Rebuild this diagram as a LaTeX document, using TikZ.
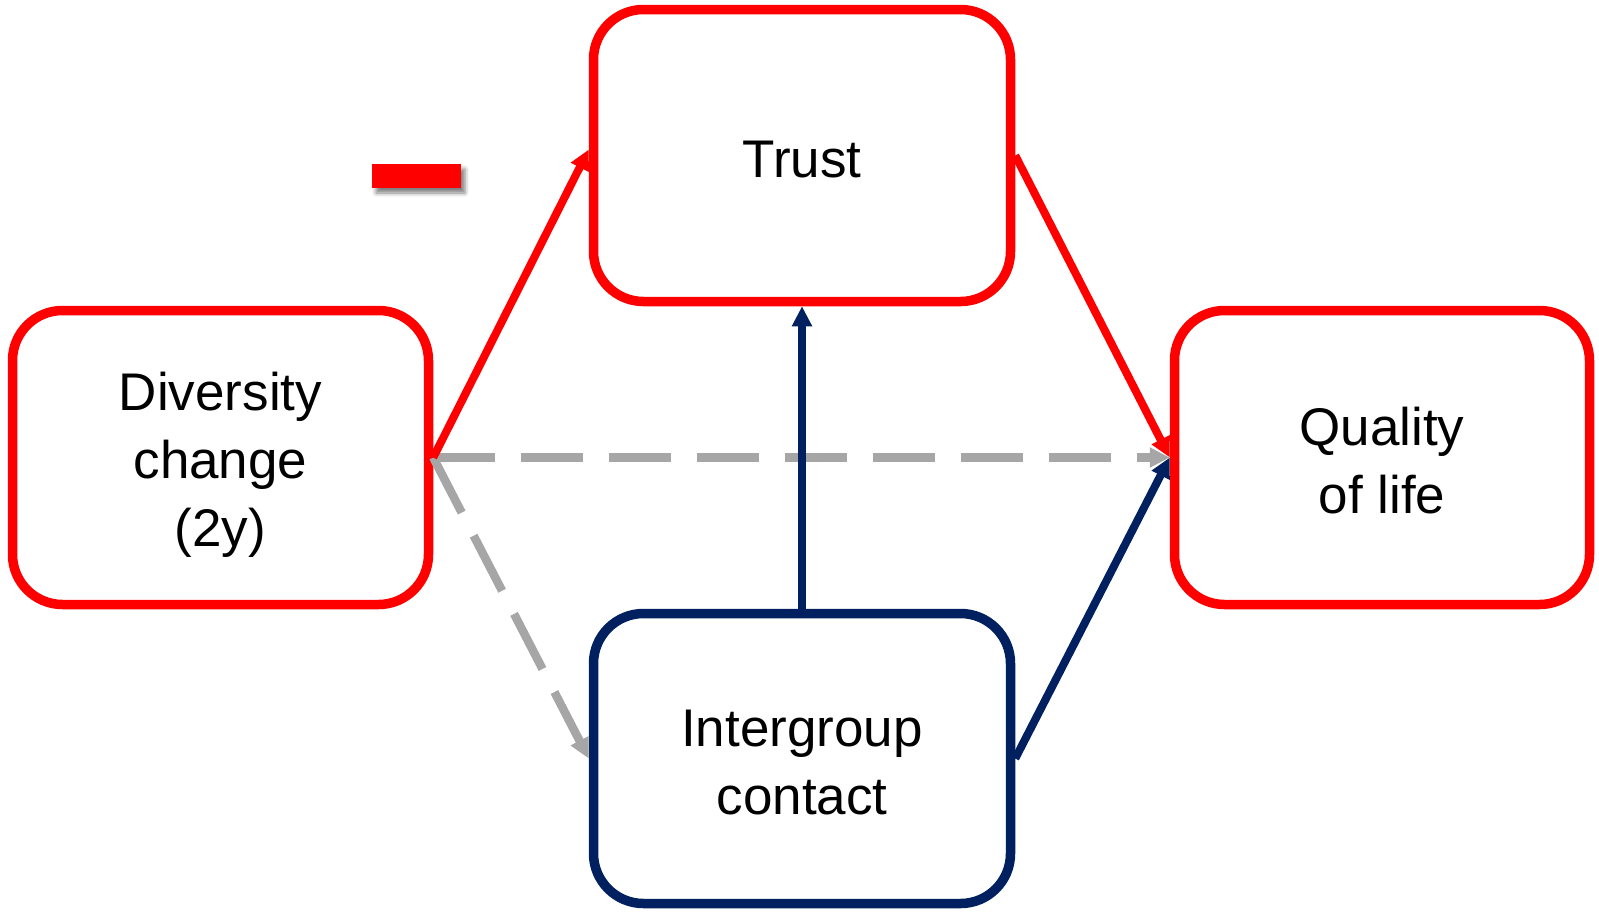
\documentclass[tikz,border=0pt]{standalone}
\usepackage{fontspec}
\setmainfont{Liberation Sans}
\usetikzlibrary{arrows.meta,shadows.blur}
\definecolor{boxred}{RGB}{255,0,0}
\definecolor{navy}{RGB}{0,32,96}
\definecolor{dashgrey}{RGB}{166,166,166}
\tikzset{
  varbox/.style={draw, line width=9.5pt, rounded corners=50pt, fill=white,
    align=center, inner sep=0pt,
    font=\fontsize{53}{68}\selectfont},
  redbox/.style={varbox, draw=boxred},
  navybox/.style={varbox, draw=navy},
  tip/.style={-{Triangle[length=20pt,width=19pt,fill=#1]}},
  redpath/.style={line width=8pt, draw=boxred, tip=boxred},
  navypath/.style={line width=8pt, draw=navy, tip=navy},
  nspath/.style={line width=8.5pt, draw=dashgrey, dash pattern=on 62pt off 26pt,
    tip=dashgrey}
}
\begin{document}
\begin{tikzpicture}[x=1pt,y=-1pt]
\useasboundingbox (0,0) rectangle (1599,914);
% variables
\node[redbox, minimum width=417pt, minimum height=292pt] (trust) at (802,155.5) {\rule{0pt}{44pt}Trust};
\node[redbox, minimum width=416pt, minimum height=294pt] (div) at (220.5,457.5) {\rule{0pt}{53pt}Diversity\\change\\(2y)};
\node[redbox, minimum width=415pt, minimum height=294pt] (qol) at (1382,457.5) {\rule{0pt}{45pt}Quality\\of life};
\node[navybox, minimum width=417pt, minimum height=290pt] (igc) at (802,758.5) {\rule{0pt}{44pt}Intergroup\\contact};
% non-significant paths
\draw[nspath] (div.east) -- (qol.west);
\draw[nspath] (div.east) -- (igc.west);
% significant paths
\draw[redpath] (div.east) -- ([yshift=6pt]trust.west);
\draw[redpath] (trust.east) -- (qol.west);
\draw[navypath] (igc.north) -- (trust.south);
\draw[navypath] (igc.east) -- (qol.west);
% negative sign
\node[fill=boxred, minimum width=89pt, minimum height=24pt, inner sep=0pt,
  blur shadow={shadow xshift=4pt, shadow yshift=-5pt, shadow blur radius=4pt, shadow opacity=50}]
  (minus) at (416.5,176) {};
\end{tikzpicture}
\end{document}
